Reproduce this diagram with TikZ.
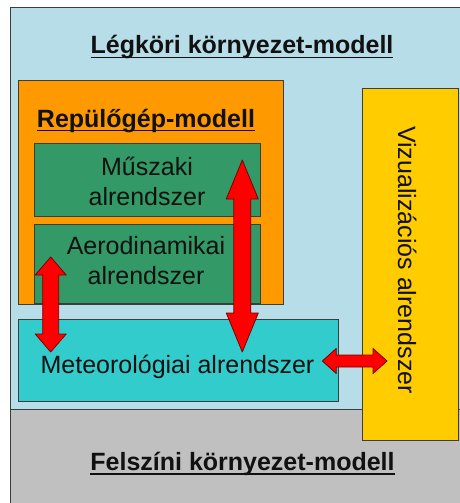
\documentclass[tikz,border=0pt]{standalone}
\usepackage{fontspec}
\setmainfont{Liberation Sans}
\usetikzlibrary{calc}
\definecolor{skyb}{HTML}{B7DDE8}
\definecolor{grayb}{HTML}{C0C0C0}
\definecolor{yel}{HTML}{FFCC00}
\definecolor{orng}{HTML}{FF9900}
\definecolor{grn}{HTML}{339966}
\definecolor{tealb}{HTML}{33CCCC}
\definecolor{edge}{HTML}{3C3C3C}
\definecolor{arrowedge}{HTML}{7A0000}
\definecolor{ink}{HTML}{111111}
\newcommand\ulbox[1]{\setbox0\hbox{#1}\rlap{\rule[-4.3pt]{\wd0}{1.7pt}}\box0}
\newcommand\vdarr[5]{\draw[redarr] let \p1=(#1), \p2=(#2) in
 (\x1,\y1) -- (\x1+#4,\y1-#3) -- (\x1+#5,\y1-#3) -- (\x1+#5,\y2+#3) -- (\x1+#4,\y2+#3) -- (\x1,\y2)
 -- (\x1-#4,\y2+#3) -- (\x1-#5,\y2+#3) -- (\x1-#5,\y1-#3) -- (\x1-#4,\y1-#3) -- cycle;}
\newcommand\hdarr[5]{\draw[redarr] let \p1=(#1), \p2=(#2) in
 (\x1,\y1) -- (\x1+#3,\y1+#4) -- (\x1+#3,\y1+#5) -- (\x2-#3,\y1+#5) -- (\x2-#3,\y1+#4) -- (\x2,\y1)
 -- (\x2-#3,\y1-#4) -- (\x2-#3,\y1-#5) -- (\x1+#3,\y1-#5) -- (\x1+#3,\y1-#4) -- cycle;}
\begin{document}
\begin{tikzpicture}[x=1pt,y=-1pt,
  box/.style={rectangle, draw=edge, line width=0.9pt, inner sep=0pt, anchor=north west},
  lbl/.style={font=\fontsize{25}{30}\selectfont, text=ink, inner sep=0pt, align=center},
  ttl/.style={font=\bfseries\fontsize{25}{30}\selectfont, text=ink, inner sep=0pt, anchor=base},
  redarr/.style={fill=red, draw=arrowedge, line width=0.8pt, line join=round}]
\useasboundingbox (0,0) rectangle (459,503);
\fill[white] (0,0) rectangle (459,503);
% boxes
\node[box, fill=skyb, minimum width=450pt, minimum height=402pt] (atm) at (10,7) {};
\node[box, fill=grayb, minimum width=450pt, minimum height=95pt] (surf) at (10,409) {};
\node[box, fill=yel, minimum width=96pt, minimum height=352pt] (viz) at (362,88) {};
\node[box, fill=orng, minimum width=265pt, minimum height=224pt] (plane) at (18,80) {};
\node[box, fill=grn, minimum width=226pt, minimum height=73pt] (musz) at (34,143) {};
\node[box, fill=grn, minimum width=226pt, minimum height=79pt] (aero) at (34,224) {};
\node[box, fill=tealb, minimum width=320pt, minimum height=82pt] (met) at (18,319) {};
% texts
\node[ttl] (atmT) at (242,54) {\ulbox{Légköri környezet-modell}};
\node[ttl] (planeT) at (146,127) {\ulbox{Repülőgép-modell}};
\node[ttl] (surfT) at (242.5,470.5) {\ulbox{Felszíni környezet-modell}};
\node[lbl] (muszT) at (147,181) {Műszaki\\alrendszer};
\node[lbl] (aeroT) at (146,261) {Aerodinamikai\\alrendszer};
\node[lbl, anchor=base] (metT) at (177.5,373) {Meteorológiai alrendszer};
\node[lbl, anchor=base, rotate=-90] (vizT) at (398,260) {Vizualizációs alrendszer};
% arrow ends
\coordinate (a1t) at ($(aero.north west)+(16.7,33)$);
\coordinate (a1b) at ($(met.north west)+(32.7,33)$);
\coordinate (a2t) at ($(musz.north west)+(208.3,17)$);
\coordinate (a2b) at ($(met.north west)+(224.3,33)$);
\coordinate (a3l) at ($(met.north west)+(304.3,42)$);
\coordinate (a3r) at ($(viz.north west)+(25,273)$);
% arrows
\vdarr{a1t}{a1b}{18pt}{15.5pt}{8pt}
\vdarr{a2t}{a2b}{39pt}{16pt}{8.5pt}
\hdarr{a3l}{a3r}{14pt}{12.5pt}{6pt}
\end{tikzpicture}
\end{document}
